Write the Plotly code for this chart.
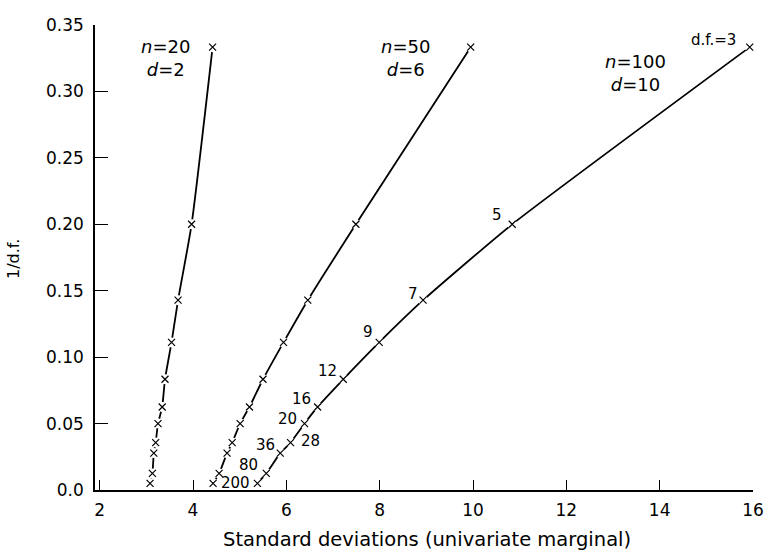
import plotly.graph_objects as go

# degrees of freedom and 1/d.f.
df_values = [3, 5, 7, 9, 12, 16, 20, 28, 36, 80, 200]
inv_df = [1.0 / v for v in df_values]

# standard deviations (univariate marginal) for each curve
sd_n20 = [4.42, 3.97, 3.68, 3.54, 3.40, 3.34, 3.25, 3.20, 3.16, 3.13, 3.08]
sd_n50 = [9.95, 7.49, 6.46, 5.94, 5.50, 5.21, 5.01, 4.84, 4.73, 4.56, 4.43]
sd_n100 = [15.93, 10.84, 8.93, 7.99, 7.22, 6.67, 6.39, 6.09, 5.87, 5.57, 5.38]

curve_labels = ["<i>n</i>=20<br><i>d</i>=2", "<i>n</i>=50<br><i>d</i>=6", "<i>n</i>=100<br><i>d</i>=10"]
point_labels = ["d.f.=3", "5", "7", "9", "12", "16", "20", "28", "36", "80", "200"]

x_ticks = [2, 4, 6, 8, 10, 12, 14, 16]
y_ticks = [0.0, 0.05, 0.10, 0.15, 0.20, 0.25, 0.30, 0.35]
y_ticktext = ["0.0", "0.05", "0.10", "0.15", "0.20", "0.25", "0.30", "0.35"]

FONT = "DejaVu Sans, Liberation Sans, Arial, sans-serif"

fig = go.Figure()
for xs in (sd_n20, sd_n50, sd_n100):
    fig.add_trace(go.Scatter(x=xs, y=inv_df, mode="lines",
                             line=dict(color="black", width=1.8, shape="spline", smoothing=0.5),
                             hoverinfo="skip", showlegend=False))
for xs in (sd_n20, sd_n50, sd_n100):
    fig.add_trace(go.Scatter(x=xs, y=inv_df, mode="markers",
                             marker=dict(symbol="circle", size=10, color="white", line=dict(width=0)),
                             hoverinfo="skip", showlegend=False, cliponaxis=False))
    fig.add_trace(go.Scatter(x=xs, y=inv_df, mode="markers",
                             marker=dict(symbol="x-thin", size=7, color="black",
                                         line=dict(color="black", width=1.2)),
                             showlegend=False, cliponaxis=False))

# curve labels
label_pos = [(3.42, 0.325), (8.55, 0.325), (13.48, 0.314)]
for (lx, ly), txt in zip(label_pos, curve_labels):
    fig.add_annotation(x=lx, y=ly, text=txt, showarrow=False,
                       font=dict(family=FONT, size=18, color="black"),
                       align="center", xanchor="center", yanchor="middle")

# point labels on the n=100 curve (pixel offsets from each marker)
offsets = [(-36, 7), (-15, 9), (-10, 6), (-11, 10), (-16, 8), (-16, 8), (-17, 5), (20, 2), (-15, 8), (-18, 8), (-22, 0)]
for xv, yv, txt, (dx, dy) in zip(sd_n100, inv_df, point_labels, offsets):
    fig.add_annotation(x=xv, y=yv, text=txt, showarrow=False, xshift=dx, yshift=dy,
                       font=dict(family=FONT, size=15, color="black"),
                       xanchor="center", yanchor="middle")

fig.add_annotation(xref="paper", yref="paper", x=0.504, y=-0.106,
                   text="Standard deviations (univariate marginal)",
                   showarrow=False, font=dict(family=FONT, size=19.5, color="black"),
                   xanchor="center", yanchor="middle")
fig.add_annotation(xref="paper", yref="paper", x=-0.123, y=0.497, text="1/d.f.", textangle=-90,
                   showarrow=False, font=dict(family=FONT, size=16, color="black"),
                   xanchor="center", yanchor="middle")

fig.update_layout(
    template="none",
    width=767, height=552, autosize=False,
    margin=dict(l=95, r=14, t=25, b=62, pad=0),
    paper_bgcolor="white", plot_bgcolor="white",
    font=dict(family=FONT, size=17, color="black"),
    xaxis=dict(range=[1.9, 16.0], tickvals=x_ticks, ticks="inside", ticklen=10, tickwidth=1.3,
               tickcolor="black", showline=True, linecolor="black", linewidth=1.6,
               showgrid=False, zeroline=False, tickfont=dict(family=FONT, size=17),
               ticklabelstandoff=4, automargin=False),
    yaxis=dict(range=[0.0, 0.35], tickvals=y_ticks, ticktext=y_ticktext, ticks="inside", ticklen=13,
               tickwidth=1.3, tickcolor="black", showline=True, linecolor="black", linewidth=1.6,
               showgrid=False, zeroline=False, tickfont=dict(family=FONT, size=17),
               ticklabelstandoff=6, automargin=False),
)

# remove the default page margin so the figure sits at the top-left corner of the window
fig.write_html("out.html", config={"displayModeBar": False},
               post_script="document.body.style.margin='0';document.body.style.overflow='hidden';")
